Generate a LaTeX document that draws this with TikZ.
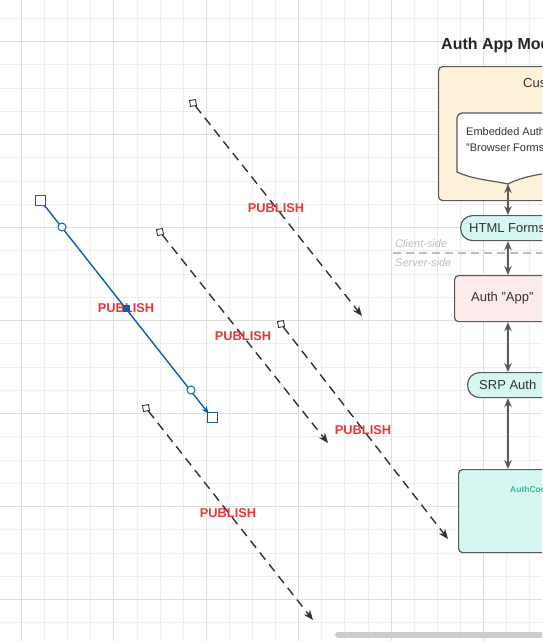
\documentclass[tikz,border=0pt]{standalone}
\usepackage{fontspec}
\setmainfont{Liberation Sans}
\usetikzlibrary{arrows.meta,calc}
\definecolor{gridminor}{HTML}{EEEEEE}
\definecolor{gridmajor}{HTML}{DEDEDE}
\definecolor{ink}{HTML}{333333}
\definecolor{edge}{HTML}{5A5A5A}
\definecolor{pubred}{HTML}{E8363D}
\definecolor{selblue}{HTML}{0F5CB3}
\definecolor{custfill}{HTML}{FDF1DA}
\definecolor{cyanfill}{HTML}{D6F6F1}
\definecolor{pinkfill}{HTML}{FCEBEB}
\definecolor{codegreen}{HTML}{3CB89A}
\definecolor{sidegray}{HTML}{BDBDBD}
\tikzset{
  pubarrow/.style={draw=ink, line width=1.4pt, dash pattern=on 9pt off 6pt, -{Stealth[length=10pt,width=8pt]}},
  startsq/.style={draw=ink, fill=white, line width=0.9pt, minimum size=6pt, inner sep=0pt, rotate=10},
  publabel/.style={text=pubred, font=\bfseries\fontsize{12.8}{14}\selectfont, inner sep=1pt},
  selline/.style={draw=selblue, line width=1.4pt, -{Stealth[length=8pt,width=6pt]}},
  endhandle/.style={draw=selblue, fill=white, line width=1pt, minimum size=10pt, inner sep=0pt},
  circhandle/.style={draw=selblue, fill=white, line width=1pt, circle, minimum size=8pt, inner sep=0pt},
  midhandle/.style={fill=selblue, minimum size=7pt, inner sep=0pt},
  boxstyle/.style={draw=edge, line width=1.2pt, rounded corners=4pt, inner sep=0pt},
  pillstyle/.style={draw=edge, line width=1.2pt, fill=cyanfill, rounded corners=12pt, inner sep=0pt},
  linkarrow/.style={draw=edge, line width=1.4pt, {Stealth[length=9pt,width=7.5pt]}-{Stealth[length=9pt,width=7.5pt]}},
  boxtext/.style={text=ink, font=\fontsize{13}{15}\selectfont, anchor=west, inner sep=0pt},
}
\begin{document}
\begin{tikzpicture}[x=1pt,y=-1pt]
\useasboundingbox (0,0) rectangle (542,641);
\clip (0,0) rectangle (542,641);
\fill[white] (0,0) rectangle (542,641);
% grid
\foreach \i in {-1,...,23} {\draw[gridminor, line width=0.9pt] ({21.5+\i*23.1},0) -- ({21.5+\i*23.1},641);}
\foreach \i in {-1,...,26} {\draw[gridminor, line width=0.9pt] (0,{41.5+\i*23.25}) -- (542,{41.5+\i*23.25});}
\foreach \i in {0,4,...,20} {\draw[gridmajor, line width=0.9pt] ({21.5+\i*23.1},0) -- ({21.5+\i*23.1},641);}
\foreach \i in {0,4,...,24} {\draw[gridmajor, line width=0.9pt] (0,{41.5+\i*23.25}) -- (542,{41.5+\i*23.25});}

% ---------- right side model ----------
\node[anchor=west, inner sep=0pt, text=black!85, font=\bfseries\fontsize{16}{18}\selectfont] (title) at (441,45) {Auth App Model};

\node[boxstyle, fill=custfill, anchor=north west, minimum width=200pt, minimum height=134pt] (cust) at (438,66) {};
\node[boxtext] (custlabel) at (523,84) {Customer App};

% document shape
\coordinate (docsouth) at (508,184);
\filldraw[draw=edge, fill=white, line width=1.2pt]
  (457,172) -- (457,118) [rounded corners=5pt] -- (457,113) -- (620,113) [sharp corners] -- (620,172)
  .. controls (580,168) and (530,172) .. (docsouth)
  .. controls (490,180) and (475,180) .. (457,172) -- cycle;
\node[anchor=north west, inner sep=0pt, align=left, text=ink, font=\fontsize{11}{16}\selectfont] (doc) at (466,127) {Embedded Authentication\\"Browser Forms"};

\node[pillstyle, anchor=north west, minimum width=160pt, minimum height=25pt] (html) at (460,215) {};
\node[boxtext] (htmllabel) at (469,228) {HTML Forms};

\coordinate (xa) at (508,0);
\draw[linkarrow] (docsouth) -- (html.north -| xa);

% client/server divider
\draw[sidegray, line width=1.2pt, dash pattern=on 8pt off 5pt] (393,253) -- (542,253);
\node[anchor=west, inner sep=0pt, text=sidegray, font=\itshape\fontsize{11}{13}\selectfont] (client) at (395,244) {Client-side};
\node[anchor=west, inner sep=0pt, text=sidegray, font=\itshape\fontsize{11}{13}\selectfont] (server) at (395,263) {Server-side};

\node[boxstyle, fill=pinkfill, anchor=north west, minimum width=160pt, minimum height=46pt] (app) at (454,275) {};
\node[boxtext] (applabel) at (471,298) {Auth "App"};
\draw[linkarrow] (html.south -| xa) -- (app.north -| xa);

\node[pillstyle, anchor=north west, minimum width=160pt, minimum height=25pt] (srp) at (467,372) {};
\node[boxtext] (srplabel) at (479,385) {SRP Auth};
\draw[linkarrow] (app.south -| xa) -- (srp.north -| xa);

\node[boxstyle, fill=cyanfill, anchor=north west, minimum width=160pt, minimum height=83pt] (code) at (458,469) {};
\node[anchor=west, inner sep=0pt, text=codegreen, font=\bfseries\fontsize{8.5}{10}\selectfont] (codelabel) at (510,489) {AuthCode};
\draw[linkarrow] (srp.south -| xa) -- (code.north -| xa);

% ---------- PUBLISH arrows ----------
\node[startsq] (a1s) at (193,103) {};
\coordinate (a1e) at (362,316);
\draw[pubarrow] (a1s) -- (a1e);
\node[publabel] (l1) at (276,208) {PUBLISH};

\node[startsq] (a2s) at (160,232) {};
\coordinate (a2e) at (328,443);
\draw[pubarrow] (a2s) -- (a2e);
\node[publabel] (l2) at (243,336) {PUBLISH};

\node[startsq] (a3s) at (281,324) {};
\coordinate (a3e) at (448,539);
\draw[pubarrow] (a3s) -- (a3e);
\node[publabel] (l3) at (363,430) {PUBLISH};

\node[startsq] (a4s) at (146,408) {};
\coordinate (a4e) at (313,620);
\draw[pubarrow] (a4s) -- (a4e);
\node[publabel] (l4) at (228,513) {PUBLISH};

% selected arrow
\node[publabel] (l5) at (126,308) {PUBLISH};
\coordinate (s1) at (41,201);
\coordinate (s2) at (209,414);
\draw[selline] (s1) -- (s2);
\node[endhandle] (h1) at (40,200) {};
\node[endhandle] (h2) at (212,417) {};
\node[circhandle] (c1) at (62,227) {};
\node[circhandle] (c2) at (191,390) {};
\node[midhandle] (m1) at (126,308) {};

% scrollbar
\draw[line width=6pt, line cap=round, color=black!20] (338,635) -- (560,635);
\end{tikzpicture}
\end{document}
